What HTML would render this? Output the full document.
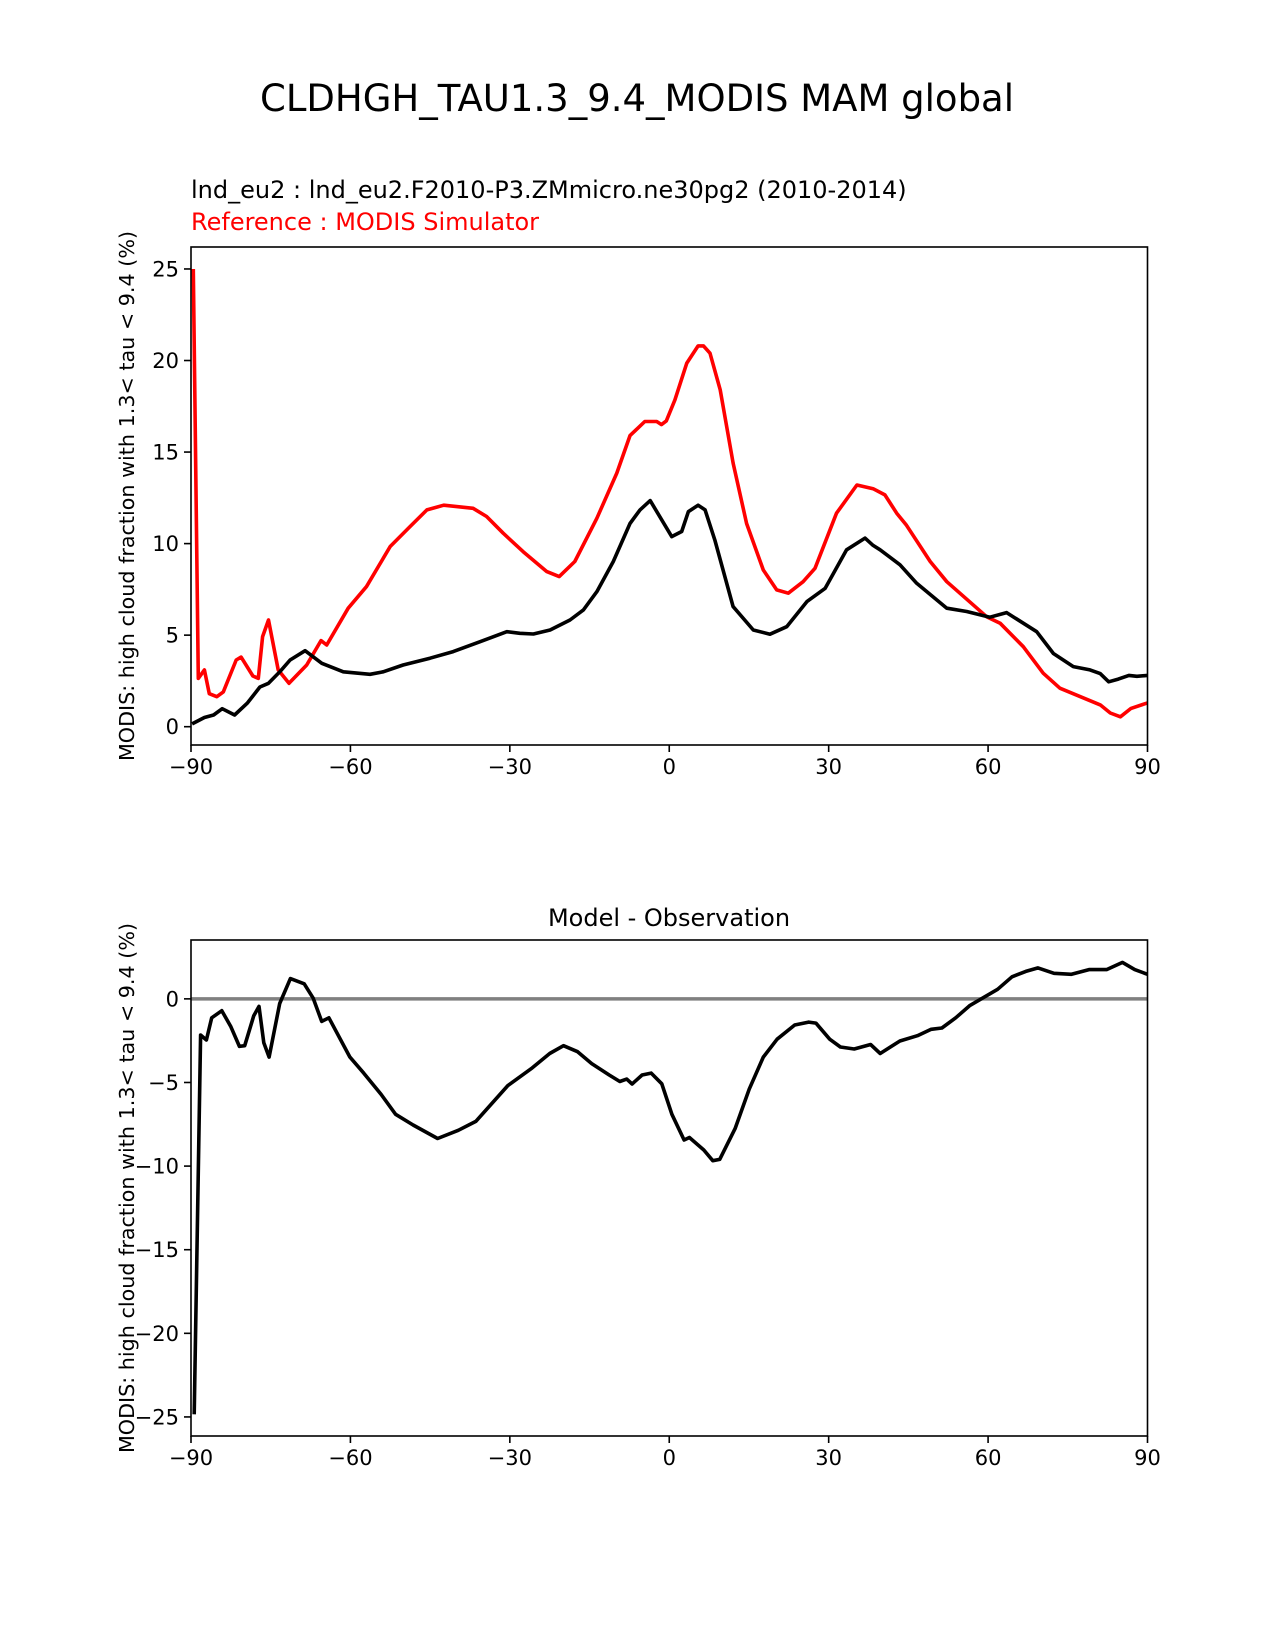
<!DOCTYPE html>
<html><head><meta charset="utf-8">
<style>
html,body{margin:0;padding:0;background:#fff;}
svg{display:block;font-family:"DejaVu Sans","Liberation Sans",sans-serif;}
</style></head>
<body>
<svg id="fig" width="1275" height="1650" viewBox="0 0 1275 1650">
<text x="637" y="111" font-size="37" text-anchor="middle">CLDHGH_TAU1.3_9.4_MODIS MAM global</text>
<text x="191" y="198" font-size="24">lnd_eu2 : lnd_eu2.F2010-P3.ZMmicro.ne30pg2 (2010-2014)</text>
<text x="191" y="230" font-size="24" fill="#ff0000">Reference : MODIS Simulator</text>
<text x="669" y="926" font-size="24" text-anchor="middle">Model - Observation</text>
<g id="top"></g>
<g id="bot"></g>
</svg>
<script>
const xTicks = [-90, -60, -30, 0, 30, 60, 90];
const topYTicks = [0, 5, 10, 15, 20, 25];
const botYTicks = [0, -5, -10, -15, -20, -25];

const modelLat = [-89.8,-87.47,-85.75,-84.12,-81.79,-79.36,-77.03,-75.41,-73.28,-71.36,-68.52,-65.38,-61.33,-56.32,-53.83,-50.09,-45.02,-40.66,-35.6,-30.58,-28.1,-25.57,-22.43,-18.68,-16.15,-13.61,-10.52,-7.39,-5.51,-3.59,0.47,2.34,3.61,5.43,6.75,8.57,12.02,15.82,18.96,22.1,25.9,29.34,33.38,36.84,38.36,39.67,43.42,46.56,52.24,55.98,60.34,63.48,69.15,72.29,76.04,79.18,81.1,82.7,84.5,86.5,88,90];
const modelVal = [0.15,0.5,0.64,0.98,0.64,1.3,2.17,2.37,3.0,3.64,4.15,3.46,3.0,2.86,3.0,3.37,3.74,4.1,4.64,5.19,5.1,5.06,5.28,5.83,6.38,7.38,9.02,11.1,11.84,12.35,10.38,10.66,11.75,12.1,11.84,10.2,6.56,5.28,5.05,5.46,6.83,7.56,9.66,10.3,9.9,9.66,8.84,7.83,6.47,6.29,5.98,6.23,5.19,4.0,3.28,3.1,2.9,2.45,2.6,2.8,2.75,2.8];

const obsLat = [-89.56,-88.62,-87.47,-86.56,-85.14,-83.92,-81.49,-80.58,-78.35,-77.34,-76.53,-75.41,-73.59,-71.56,-68.22,-65.53,-64.47,-60.42,-56.97,-52.52,-48.78,-45.61,-42.45,-36.92,-34.38,-31.24,-27.49,-23.04,-20.71,-17.77,-13.61,-9.87,-7.39,-4.6,-2.37,-1.46,-0.55,1.07,3.3,5.43,6.44,7.66,9.59,12.02,14.55,17.69,20.22,22.4,25.19,27.42,31.47,35.32,38.36,40.59,42.81,44.64,49.1,52.24,59.73,62.26,66.62,70.37,73.51,81.11,83,84.9,86.9,90];
const obsVal = [25,2.64,3.1,1.8,1.64,1.9,3.64,3.8,2.77,2.64,4.92,5.83,3.1,2.37,3.37,4.7,4.46,6.47,7.65,9.84,10.93,11.84,12.1,11.93,11.48,10.57,9.56,8.47,8.2,9.02,11.39,13.85,15.9,16.67,16.67,16.5,16.7,17.85,19.86,20.8,20.8,20.4,18.4,14.4,11.1,8.56,7.47,7.29,7.92,8.65,11.66,13.2,13.0,12.66,11.66,11.0,9.02,7.92,6.01,5.65,4.37,2.92,2.1,1.19,0.75,0.54,1.0,1.3];

const diffLat = [-89.4,-88.2,-87.1,-86.1,-84.2,-82.5,-80.9,-79.9,-78.2,-77.2,-76.3,-75.3,-73.3,-71.3,-68.7,-67,-65.4,-64.05,-60.1,-57.5,-54.2,-51.5,-48.2,-43.6,-39.7,-36.4,-30.4,-25.8,-22.5,-19.9,-17.25,-14.6,-11.3,-9.3,-8,-7,-5.1,-3.4,-1.4,0.5,2.8,3.8,6.5,8.2,9.5,12.4,15.05,17.7,20.3,23.6,26.25,27.6,30.2,32.2,34.8,37.9,39.7,43.4,46.7,49.3,51.3,53.9,56.6,59.5,61.8,64.5,67.1,69.4,72.4,75.7,79,82.3,85.3,87.6,90];
const diffVal = [-24.84,-2.16,-2.46,-1.13,-0.71,-1.67,-2.84,-2.8,-1.02,-0.45,-2.63,-3.48,-0.28,1.21,0.9,0.04,-1.35,-1.13,-3.48,-4.44,-5.72,-6.9,-7.54,-8.35,-7.86,-7.33,-5.19,-4.13,-3.27,-2.8,-3.16,-3.87,-4.55,-4.94,-4.8,-5.09,-4.55,-4.44,-5.08,-6.9,-8.44,-8.29,-9.04,-9.68,-9.6,-7.76,-5.4,-3.48,-2.41,-1.56,-1.39,-1.45,-2.41,-2.88,-3.0,-2.73,-3.27,-2.52,-2.2,-1.82,-1.74,-1.13,-0.39,0.15,0.57,1.32,1.64,1.85,1.53,1.47,1.75,1.75,2.18,1.75,1.47];

const NS = 'http://www.w3.org/2000/svg';
function mk(tag, attrs, parent){
  const e = document.createElementNS(NS, tag);
  for (const k in attrs) e.setAttribute(k, attrs[k]);
  parent.appendChild(e);
  return e;
}
const L = 191, R = 1147.5;
function xs(lat){ return L + (lat + 90) / 180 * (R - L); }

function panel(g, top, bot, ymin, ymax, yticks, series, zeroLine, prefix){
  const ys = v => bot - (v - ymin) / (ymax - ymin) * (bot - top);
  if (zeroLine){
    const z = mk('line', {x1:L, x2:R, y1:ys(0), y2:ys(0), stroke:'#808080', 'stroke-width':3.5}, g);
    
    
  }
  series.forEach(s => {
    const d = s.lat.map((la, i) => (i ? 'L' : 'M') + xs(la).toFixed(1) + ',' + ys(s.val[i]).toFixed(1)).join('');
    const p = mk('path', {d:d, fill:'none', stroke:s.color, 'stroke-width':3.6, 'stroke-linejoin':'round'}, g);
    
    
  });
  const box = mk('rect', {x:L, y:top, width:R-L, height:bot-top, fill:'none', stroke:'#000', 'stroke-width':1.6}, g);
  
  
  xTicks.forEach(t => {
    const x = xs(t);
    mk('line', {x1:x, x2:x, y1:bot, y2:bot+7, stroke:'#000', 'stroke-width':1.6}, g);
    const tx = mk('text', {x:x, y:bot+29, 'font-size':21, 'text-anchor':'middle'}, g);
    tx.textContent = t < 0 ? '\u2212' + Math.abs(t) : String(t);
    
    
  });
  yticks.forEach(t => {
    const y = ys(t);
    mk('line', {x1:L-7, x2:L, y1:y, y2:y, stroke:'#000', 'stroke-width':1.6}, g);
    const tx = mk('text', {x:L-12, y:y+7.5, 'font-size':21, 'text-anchor':'end'}, g);
    tx.textContent = t < 0 ? '\u2212' + Math.abs(t) : String(t);
    
    
  });
  const cy = (top + bot) / 2;
  const yl = mk('text', {x:0, y:0, 'font-size':20.7, 'text-anchor':'middle', transform:'translate(134,' + cy + ') rotate(-90)'}, g);
  yl.textContent = 'MODIS: high cloud fraction with 1.3< tau < 9.4 (%)';
  
  
}

panel(document.getElementById('top'), 247, 745, -1.0, 26.2, topYTicks, [
  {lat:obsLat, val:obsVal, color:'#ff0000', name:'reference-line'},
  {lat:modelLat, val:modelVal, color:'#000000', name:'model-line'}
], false, 'top');

panel(document.getElementById('bot'), 940, 1436, -26.14, 3.52, botYTicks, [
  {lat:diffLat, val:diffVal, color:'#000000', name:'difference-line'}
], true, 'diff');
</script>
</body></html>
